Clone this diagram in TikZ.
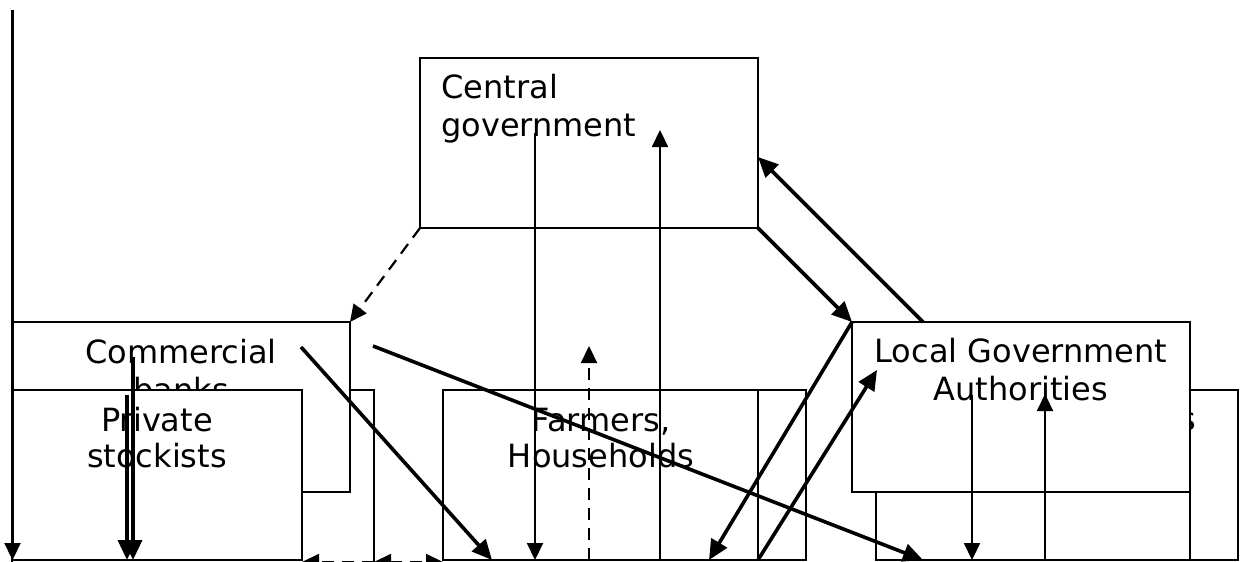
\documentclass[tikz,border=0pt]{standalone}
\usepackage{fontspec}
\setmainfont{DejaVu Sans}
\usetikzlibrary{arrows.meta}
\begin{document}
\begin{tikzpicture}[x=0.5pt,y=-0.5pt,
  box/.style={draw,fill=white,line width=1.1pt,inner sep=0pt,outer sep=0pt,anchor=north west},
  lbl/.style={inner sep=0pt,font=\fontsize{16}{19}\selectfont},
  lblb/.style={inner sep=0pt,font=\fontsize{16}{17.75}\selectfont},
  plainline/.style={line width=1.1pt},
  thinarr/.style={line width=1.1pt,-{Triangle[length=8.5pt,width=8pt]}},
  thickarr/.style={line width=1.8pt,-{Triangle[length=10pt,width=9pt]}},
  dasharr/.style={line width=1.1pt,dash pattern=on 6pt off 4pt,-{Triangle[length=8.5pt,width=8pt]}},
  dashboth/.style={line width=1.1pt,dash pattern=on 6pt off 4pt,{Triangle[length=8.5pt,width=8pt]}-{Triangle[length=8.5pt,width=8pt]}}
]
\useasboundingbox (0,0) rectangle (1242,562);
% boxes
\node[box,minimum width=181pt,minimum height=95pt] (hidl) at (12,390) {};
\node[box,minimum width=169pt,minimum height=85pt] (cb) at (12,322) {};
\node[lbl,align=center,anchor=north] (cbt) at (181,339) {Commercial\\banks};
\node[box,minimum width=145pt,minimum height=85pt] (ps) at (12,390) {};
\node[lblb,align=center,anchor=north] (pst) at (157,407) {Private\\stockists};
\node[box,minimum width=130pt,minimum height=85pt] (hidm) at (546,390) {};
\node[box,minimum width=157.5pt,minimum height=85pt] (fh) at (443,390) {};
\node[lblb,align=center,anchor=north] (fht) at (601,408) {Farmers,\\Households};
\node[box,minimum width=169pt,minimum height=85pt] (cg) at (420,58) {};
\node[lbl,align=left,anchor=north west] (cgt) at (441,74) {Central\\government};
\node[box,minimum width=181pt,minimum height=85pt] (rb) at (876,390) {};
\node[lbl,anchor=base east] (rbt) at (1197,430) {s};
\node[box,minimum width=169pt,minimum height=85pt] (lga) at (852,322) {};
\node[lbl,align=center,anchor=north] (lgat) at (1021,338) {Local Government\\Authorities};
% coordinates
\coordinate (lt) at (12.5,10);
\coordinate (lb) at (12.5,560);
\coordinate (k1s) at (133,357);
\coordinate (k1e) at (133,560);
\coordinate (k2s) at (127,395);
\coordinate (k2e) at (127,560);
\coordinate (gs) at (301,347);
\coordinate (ge) at (492,560);
\coordinate (hs) at (373,346);
\coordinate (he) at (923,560);
\coordinate (v1s) at (535,133);
\coordinate (v1e) at (535,560);
\coordinate (v2s) at (660,560);
\coordinate (v2e) at (660,130);
\coordinate (v3s) at (589,560);
\coordinate (v3e) at (589,346);
\coordinate (ds) at (923,322);
\coordinate (de) at (758,157);
\coordinate (ee) at (877,370);
\coordinate (fe) at (709,560);
\coordinate (is) at (972,395);
\coordinate (ie) at (972,560);
\coordinate (js) at (1045,560);
\coordinate (je) at (1045,394);
\coordinate (rv) at (1190,560);
\coordinate (b1) at (302,562);
\coordinate (b2) at (374,562);
\coordinate (b3) at (443,562);
% connectors
\draw[thinarr] (lt) -- (lb);
\draw[dasharr] (cg.south west) -- (cb.north east);
\draw[thickarr] (cg.south east) -- (lga.north west);
\draw[thickarr] (ds) -- (de);
\draw[thickarr] (fh.south east) -- (ee);
\draw[thickarr] (lga.north west) -- (fe);
\draw[thickarr] (gs) -- (ge);
\draw[thickarr] (hs) -- (he);
\draw[thickarr] (k1s) -- (k1e);
\draw[thickarr] (k2s) -- (k2e);
\draw[thinarr] (v1s) -- (v1e);
\draw[thinarr] (v2s) -- (v2e);
\draw[dasharr] (v3s) -- (v3e);
\draw[thinarr] (is) -- (ie);
\draw[thinarr] (js) -- (je);
\draw[plainline] (lga.south east) -- (rv);
\draw[dasharr] (b2) -- (b1);
\draw[dashboth] (b2) -- (b3);
\end{tikzpicture}
\end{document}
